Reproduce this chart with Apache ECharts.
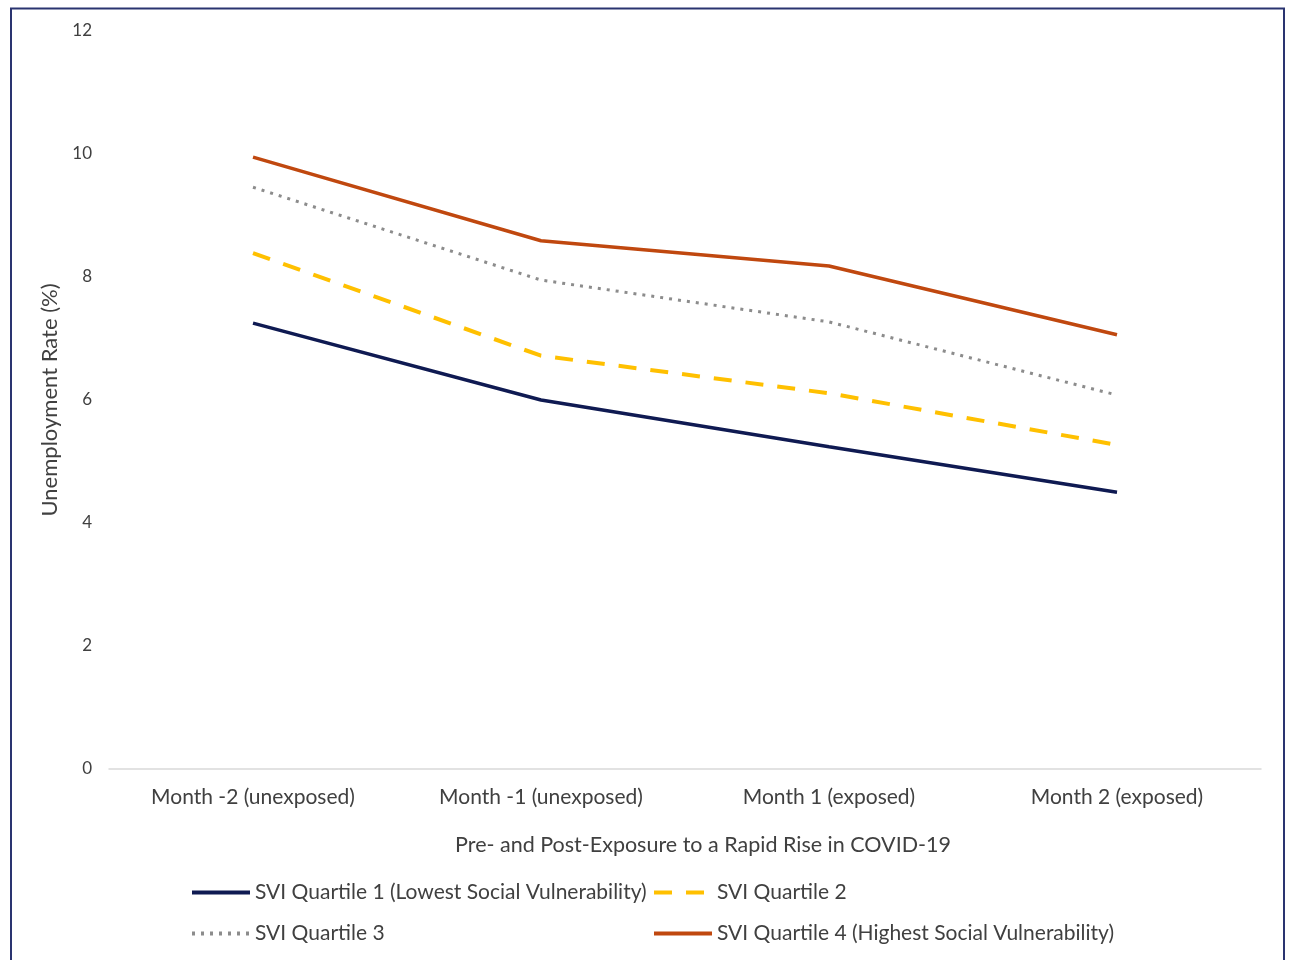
<!DOCTYPE html>
<html>
<head>
<meta charset="utf-8">
<script src="https://cdn.jsdelivr.net/npm/echarts@6/dist/echarts.min.js"></script>
<style>
  html, body { margin: 0; padding: 0; background: #ffffff; }
  #chart { width: 1289px; height: 960px; }
</style>
</head>
<body>
<div id="chart"></div>
<script>
const categories = ['Month -2 (unexposed)', 'Month -1 (unexposed)', 'Month 1 (exposed)', 'Month 2 (exposed)'];
const q1 = [7.25, 6.0, 5.24, 4.5];
const q2 = [8.39, 6.72, 6.11, 5.27];
const q3 = [9.46, 7.95, 7.27, 6.08];
const q4 = [9.95, 8.59, 8.18, 7.06];
const seriesNames = [
  'SVI Quartile 1 (Lowest Social Vulnerability)',
  'SVI Quartile 2',
  'SVI Quartile 3',
  'SVI Quartile 4 (Highest Social Vulnerability)'
];
const yTicks = { min: 0, max: 12, interval: 2 };

const FONT = 'Lato, "Open Sans", sans-serif';
const TXT = '#404040';

const chart = echarts.init(document.getElementById('chart'), null, { renderer: 'canvas' });

function legend(name, left, top) {
  return {
    data: [name],
    left: left, top: top,
    orient: 'horizontal',
    itemWidth: 58, itemHeight: 14, itemGap: 0,
    itemStyle: { opacity: 0 },
    lineStyle: { width: 4 },
    textStyle: { fontFamily: FONT, fontSize: 21, color: TXT },
    selectedMode: false,
    padding: 0
  };
}

const option = {
  backgroundColor: '#ffffff',
  animation: false,
  graphic: [{
    type: 'rect',
    shape: { x: 11, y: 8.5, width: 1273, height: 1000 },
    style: { fill: 'none', stroke: '#2a3470', lineWidth: 2 },
    silent: true
  }],
  grid: { left: 109, right: 28, top: 31, bottom: 191, containLabel: false },
  legend: [
    legend(seriesNames[0], 190, 882),
    legend(seriesNames[1], 652, 882),
    legend(seriesNames[2], 190, 923),
    legend(seriesNames[3], 652, 923)
  ],
  xAxis: {
    type: 'category',
    data: categories,
    boundaryGap: true,
    axisLine: { show: true, lineStyle: { color: '#d9d9d9', width: 1.5 } },
    axisTick: { show: false },
    axisLabel: { fontFamily: FONT, fontSize: 21, color: TXT, margin: 18 },
    name: 'Pre- and Post-Exposure to a Rapid Rise in COVID-19',
    nameLocation: 'middle',
    nameGap: 65,
    nameTextStyle: { fontFamily: FONT, fontSize: 21.5, color: TXT, padding: [0, 0, 0, 36] }
  },
  yAxis: {
    type: 'value',
    min: yTicks.min, max: yTicks.max, interval: yTicks.interval,
    axisLine: { show: false },
    axisTick: { show: false },
    splitLine: { show: false },
    axisLabel: { fontFamily: FONT, fontSize: 17, color: TXT, margin: 17 },
    name: 'Unemployment Rate (%)',
    nameLocation: 'middle',
    nameGap: 48,
    nameTextStyle: { fontFamily: FONT, fontSize: 22, color: TXT }
  },
  series: [
    { name: seriesNames[0], type: 'line', data: q1, symbol: 'none', z: 4,
      itemStyle: { color: '#0f1a52' },
      lineStyle: { color: '#0f1a52', width: 3.5, type: 'solid' } },
    { name: seriesNames[1], type: 'line', data: q2, symbol: 'none', z: 3,
      itemStyle: { color: '#ffc000' },
      lineStyle: { color: '#ffc000', width: 4, type: [18, 14] } },
    { name: seriesNames[2], type: 'line', data: q3, symbol: 'none', z: 2,
      itemStyle: { color: '#8c8c8c' },
      lineStyle: { color: '#8c8c8c', width: 3, type: [3, 6] } },
    { name: seriesNames[3], type: 'line', data: q4, symbol: 'none', z: 5,
      itemStyle: { color: '#c0480f' },
      lineStyle: { color: '#c0480f', width: 3.5, type: 'solid' } }
  ]
};
chart.setOption(option);
</script>
</body>
</html>
